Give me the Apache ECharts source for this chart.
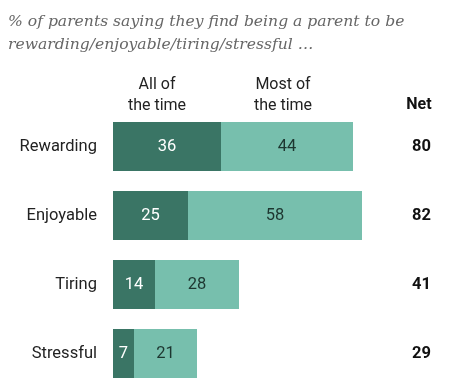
<!DOCTYPE html>
<html><head><meta charset="utf-8">
<script src="https://cdn.jsdelivr.net/npm/echarts@6/dist/echarts.min.js"></script>
<style>html,body{margin:0;padding:0;background:#fff}#c{width:469px;height:391px}</style>
</head><body><div id="c"></div>
<script>
const categories = ['Rewarding', 'Enjoyable', 'Tiring', 'Stressful'];
const allOfTime = [36, 25, 14, 7];
const mostOfTime = [44, 58, 28, 21];
const netValues = [80, 82, 41, 29];
const seriesNames = ['All of\nthe time', 'Most of\nthe time'];
const titleText = '% of parents saying they find being a parent to be\nrewarding/enjoyable/tiring/stressful …';

const chart = echarts.init(document.getElementById('c'), null, {renderer: 'canvas'});
const font = 'Roboto, "Liberation Sans", sans-serif';
chart.setOption({
  animation: false,
  title: {
    text: titleText, left: 3, top: 5,
    textStyle: {fontFamily: '"DejaVu Serif", serif', fontStyle: 'italic', fontWeight: 'normal', fontSize: 15.6, color: '#666', lineHeight: 23}
  },
  graphic: [
    {type: 'text', x: 157, y: 95, style: {text: seriesNames[0], fontFamily: font, fontSize: 16, fill: '#222', align: 'center', verticalAlign: 'middle', lineHeight: 21}},
    {type: 'text', x: 283, y: 95, style: {text: seriesNames[1], fontFamily: font, fontSize: 16, fill: '#222', align: 'center', verticalAlign: 'middle', lineHeight: 21}},
    {type: 'text', x: 419, y: 105, style: {text: 'Net', fontFamily: font, fontSize: 16, fontWeight: 'bold', fill: '#111', align: 'center', verticalAlign: 'middle'}}
  ],
  grid: {left: 113, right: 56, top: 112, bottom: 3, containLabel: false},
  xAxis: {type: 'value', min: 0, max: 100, show: false},
  yAxis: [
    {type: 'category', data: categories, inverse: true,
     axisLine: {show: false}, axisTick: {show: false},
     axisLabel: {fontFamily: font, fontSize: 16.5, color: '#222', margin: 16}},
    {type: 'category', data: netValues, inverse: true, position: 'right',
     axisLine: {show: false}, axisTick: {show: false},
     axisLabel: {fontFamily: font, fontSize: 16.5, fontWeight: 'bold', color: '#111', margin: 18, align: 'right'}}
  ],
  series: [
    {name: 'All', type: 'bar', stack: 'a', data: allOfTime, barWidth: 49,
     itemStyle: {color: '#3a7565'},
     label: {show: true, position: 'inside', fontFamily: font, fontSize: 16.5, color: '#fff'}},
    {name: 'Most', type: 'bar', stack: 'a', data: mostOfTime, barWidth: 49,
     itemStyle: {color: '#77bfad'},
     label: {show: true, position: 'inside', fontFamily: font, fontSize: 16.5, color: '#1d3630'}}
  ]
});
</script></body></html>
